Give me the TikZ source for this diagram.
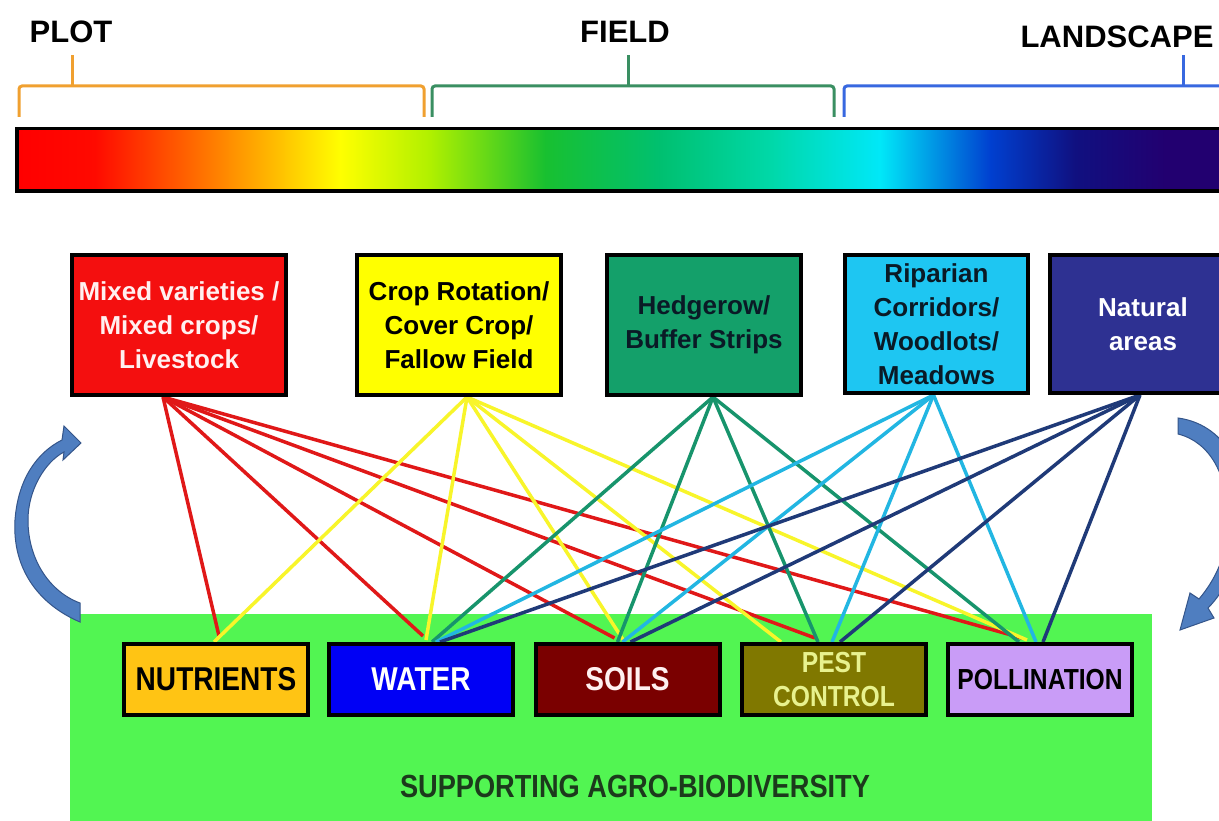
\documentclass[tikz,border=0pt]{standalone}
\usepackage{fontspec}
\setmainfont{Liberation Sans}
\newfontfamily\narrowfont[FakeStretch=0.85]{Liberation Sans}
\usetikzlibrary{calc}
\pgfdeclarelayer{bg}
\pgfsetlayers{bg,main}
% palette
\definecolor{cRed}{HTML}{F40F0F}
\definecolor{cYel}{HTML}{FFFF00}
\definecolor{cGrn}{HTML}{14A06A}
\definecolor{cCya}{HTML}{1EC6F2}
\definecolor{cNav}{HTML}{2E3192}
\definecolor{lRed}{HTML}{E01818}
\definecolor{lYel}{HTML}{F8F52A}
\definecolor{lGrn}{HTML}{17946C}
\definecolor{lCya}{HTML}{22B6E2}
\definecolor{lNav}{HTML}{1F3A78}
\definecolor{bNut}{HTML}{FFC414}
\definecolor{bWat}{HTML}{0000F5}
\definecolor{bSoi}{HTML}{7A0000}
\definecolor{bPes}{HTML}{807800}
\definecolor{bPol}{HTML}{C99CF7}
\definecolor{tPes}{HTML}{E8F28E}
\definecolor{bgGreen}{HTML}{52F552}
\definecolor{supText}{HTML}{1C3A1C}
\definecolor{brOra}{HTML}{F0A030}
\definecolor{brGrn}{HTML}{3A8F62}
\definecolor{brBlu}{HTML}{3868E0}
\definecolor{arFill}{HTML}{4F7EC0}
\definecolor{arLine}{HTML}{34558A}
\definecolor{g1}{HTML}{FF0000}
\definecolor{g2}{HTML}{FF0A00}
\definecolor{g3}{HTML}{FF7000}
\definecolor{g4}{HTML}{FFFF00}
\definecolor{g5}{HTML}{B0F000}
\definecolor{g6}{HTML}{18C030}
\definecolor{g7}{HTML}{00C070}
\definecolor{g8}{HTML}{00D8A8}
\definecolor{g9}{HTML}{00E8F8}
\definecolor{g10}{HTML}{0040D0}
\definecolor{g11}{HTML}{101080}
\definecolor{g12}{HTML}{220070}
\definecolor{wText}{HTML}{FFF0F0}
\definecolor{dText}{HTML}{0A1A26}
\begin{document}
\begin{tikzpicture}[x=1pt,y=-1pt,
  topbox/.style={draw=black, line width=4pt, inner sep=0pt, align=center,
    font=\fontsize{26}{34}\selectfont\bfseries},
  botbox/.style={draw=black, line width=4pt, inner sep=0pt, align=center,
    minimum width=184pt, minimum height=71pt,
    font=\narrowfont\bfseries\fontsize{33}{34}\selectfont},
  conn/.style={line width=3.5pt},
  brk/.style={line width=3pt, rounded corners=3pt},
  heading/.style={anchor=base, font=\fontsize{31}{31}\selectfont\bfseries},
  cycarrow/.style={fill=arFill, draw=arLine, line width=1pt}]
\useasboundingbox (0,0) rectangle (1219,821);
\clip (0,0) rectangle (1219,821);

% headings
\node[heading] (plot) at (71,43) {PLOT};
\node[heading] (field) at (625,43) {FIELD};
\node[heading] (land) at (1117,48) {LANDSCAPE};

% brackets
\draw[brk, brOra] (19,117) -- (19,86) -- (424,86) -- (424,117);
\draw[line width=3pt, brOra] (72,86) -- (72,55);
\draw[brk, brGrn] (432,117) -- (432,86) -- (834,86) -- (834,117);
\draw[line width=3pt, brGrn] (628,86) -- (628,55);
\draw[brk, brBlu] (844,117) -- (844,86) -- (1240,86);
\draw[line width=3pt, brBlu] (1183,86) -- (1183,55);

% colour bar
\fill[black] (15,127) rectangle (1230,193);
\shade[left color=g1, right color=g2] (19,131) rectangle (95.5,189);
\shade[left color=g2, right color=g3] (95,131) rectangle (200.5,189);
\shade[left color=g3, right color=g4] (200,131) rectangle (340.5,189);
\shade[left color=g4, right color=g5] (340,131) rectangle (430.5,189);
\shade[left color=g5, right color=g6] (430,131) rectangle (545.5,189);
\shade[left color=g6, right color=g7] (545,131) rectangle (660.5,189);
\shade[left color=g7, right color=g8] (660,131) rectangle (770.5,189);
\shade[left color=g8, right color=g9] (770,131) rectangle (880.5,189);
\shade[left color=g9, right color=g10] (880,131) rectangle (990.5,189);
\shade[left color=g10, right color=g11] (990,131) rectangle (1075.5,189);
\shade[left color=g11, right color=g12] (1075,131) rectangle (1165.5,189);
\shade[left color=g12, right color=g12] (1165,131) rectangle (1230,189);

% top boxes
\node[topbox, fill=cRed, text=wText, minimum width=214pt, minimum height=140pt] (mix) at (179,325)
  {Mixed varieties /\\Mixed crops/\\Livestock};
\node[topbox, fill=cYel, text=black, minimum width=204pt, minimum height=140pt] (rot) at (459,325)
  {Crop Rotation/\\Cover Crop/\\Fallow Field};
\node[topbox, fill=cGrn, text=dText, minimum width=194pt, minimum height=140pt] (hed) at (704,325)
  {Hedgerow/\\Buffer Strips};
\node[topbox, fill=cCya, text=dText, minimum width=183pt, minimum height=138pt] (rip) at (936.5,324)
  {Riparian\\Corridors/\\Woodlots/\\Meadows};
\node[topbox, fill=cNav, text=white, minimum width=186pt, minimum height=138pt] (nat) at (1143,324)
  {Natural\\areas};

% bottom boxes
\node[botbox, fill=bNut, text=black] (nut) at (216,679.5) {NUTRIENTS};
\node[botbox, fill=bWat, text=white] (wat) at (421,679.5) {WATER};
\node[botbox, fill=bSoi, text=wText] (soi) at (627.5,679.5) {SOILS};
\node[botbox, fill=bPes, text=tPes, font=\narrowfont\bfseries\fontsize{29}{34}\selectfont] (pes) at (834,679.5) {PEST\\CONTROL};
\node[botbox, fill=bPol, text=black, font=\narrowfont\bfseries\fontsize{29}{34}\selectfont] (pol) at (1040,679.5) {POLLINATION};

% white page, background panel, connectors
\begin{pgfonlayer}{bg}
\fill[white] (0,0) rectangle (1219,821);
\fill[bgGreen] (70,614) rectangle (1152,821);
% red
\draw[conn, lRed] ($(mix.south)+(-16,0)$) -- ($(nut.north)+(3,-6)$);
\draw[conn, lRed] ($(mix.south)+(-16,0)$) -- ($(wat.north)+(2,-6)$);
\draw[conn, lRed] ($(mix.south)+(-16,0)$) -- ($(soi.north)+(-13,-4)$);
\draw[conn, lRed] ($(mix.south)+(-16,0)$) -- ($(pes.north)+(-19,-4)$);
\draw[conn, lRed] ($(mix.south)+(-16,0)$) -- ($(pol.north)+(-18,-4)$);
% yellow
\draw[conn, lYel] ($(rot.south)+(8,0)$) -- ($(nut.north)+(-2,0)$);
\draw[conn, lYel] ($(rot.south)+(8,0)$) -- ($(wat.north)+(5,-2)$);
\draw[conn, lYel] ($(rot.south)+(8,0)$) -- ($(soi.north)+(-3,0)$);
\draw[conn, lYel] ($(rot.south)+(8,0)$) -- ($(pes.north)+(-53,0)$);
\draw[conn, lYel] ($(rot.south)+(8,0)$) -- ($(pol.north)+(-13,-2)$);
% green
\draw[conn, lGrn] ($(hed.south)+(9,0)$) -- ($(wat.north)+(11,0)$);
\draw[conn, lGrn] ($(hed.south)+(9,0)$) -- ($(soi.north)+(-10,0)$);
\draw[conn, lGrn] ($(hed.south)+(9,0)$) -- ($(pes.north)+(-16,0)$);
\draw[conn, lGrn] ($(hed.south)+(9,0)$) -- ($(pol.north)+(-21,0)$);
% cyan
\draw[conn, lCya] ($(rip.south)+(-3,0)$) -- ($(wat.north)+(15,0)$);
\draw[conn, lCya] ($(rip.south)+(-3,0)$) -- ($(soi.north)+(-5,0)$);
\draw[conn, lCya] ($(rip.south)+(-3,0)$) -- ($(pes.north)+(-2,0)$);
\draw[conn, lCya] ($(rip.south)+(-3,0)$) -- ($(pol.north)+(-4,0)$);
% navy
\draw[conn, lNav] ($(nat.south)+(-3,0)$) -- ($(wat.north)+(19,0)$);
\draw[conn, lNav] ($(nat.south)+(-3,0)$) -- ($(soi.north)+(3,0)$);
\draw[conn, lNav] ($(nat.south)+(-3,0)$) -- ($(pes.north)+(6,0)$);
\draw[conn, lNav] ($(nat.south)+(-3,0)$) -- ($(pol.north)+(3,0)$);
\end{pgfonlayer}

\node[anchor=base, text=supText, font=\narrowfont\bfseries\fontsize{32}{32}\selectfont] (sup) at (635,797)
  {SUPPORTING AGRO-BIODIVERSITY};

% cycle arrows
\draw[cycarrow] (80,622) .. controls (40,605) and (12,570) .. (15,520)
  .. controls (18,478) and (38,452) .. (62,440)
  -- (64,426) -- (81,443) -- (63,460) -- (64,452)
  .. controls (45,462) and (28,490) .. (28,520)
  .. controls (28,560) and (50,592) .. (80,603) -- cycle;
\draw[cycarrow] (1178,418) .. controls (1230,425) and (1250,480) .. (1245,520)
  .. controls (1240,560) and (1226,590) .. (1208,608)
  -- (1214,618) -- (1180,630) -- (1190,593) -- (1199,599)
  .. controls (1215,580) and (1228,555) .. (1228,520)
  .. controls (1228,475) and (1210,442) .. (1178,434) -- cycle;
\end{tikzpicture}
\end{document}
